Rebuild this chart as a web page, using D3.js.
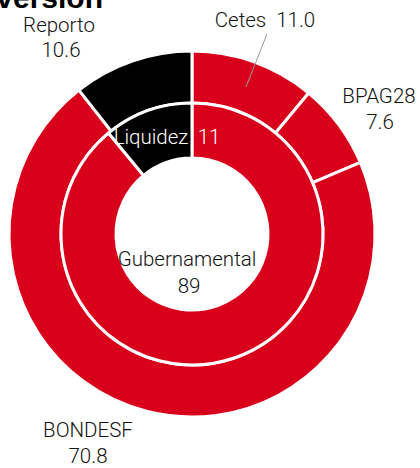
<!DOCTYPE html>
<html>
<head>
<meta charset="utf-8">
<script src="https://cdn.jsdelivr.net/npm/d3@7"></script>
<style>
  body { margin: 0; background: #fff; }
  text { font-family: Roboto, "Liberation Sans", sans-serif; font-weight: 300; }
</style>
</head>
<body>
<script>
const width = 420, height = 468;

// outer ring
const outerNames = ['Cetes', 'BPAG28', 'BONDESF', 'Reporto'];
const outerValues = [11.0, 7.6, 70.8, 10.6];
const outerColors = ['#d9001b', '#d9001b', '#d9001b', '#000000'];

// inner ring
const innerNames = ['Gubernamental', 'Liquidez'];
const innerValues = [89, 11];
const innerColors = ['#d9001b', '#000000'];

const cx = 192, cy = 234;

let svg = d3
  .select('body')
  .append('svg')
  .attr('width', width)
  .attr('height', height);

// title, cut off at the top like in the source
svg
  .append('text')
  .attr('x', 103)
  .attr('y', 8)
  .attr('text-anchor', 'end')
  .style('font', 'bold 30px "Liberation Sans", sans-serif')
  .text('Inversión');

const g = svg.append('g').attr('transform', 'translate(' + cx + ',' + cy + ')');

const pie = d3.pie().sort(null).value((d) => d);

const outerArc = d3.arc().innerRadius(131).outerRadius(183);
const innerArc = d3.arc().innerRadius(76).outerRadius(131);

g.selectAll('.outer')
  .data(pie(outerValues))
  .enter()
  .append('path')
  .attr('class', 'outer')
  .attr('d', outerArc)
  .attr('fill', (d, i) => outerColors[i])
  .attr('stroke', '#fff')
  .attr('stroke-width', 3);

g.selectAll('.inner')
  .data(pie(innerValues))
  .enter()
  .append('path')
  .attr('class', 'inner')
  .attr('d', innerArc)
  .attr('fill', (d, i) => innerColors[i])
  .attr('stroke', '#fff')
  .attr('stroke-width', 3);

// leader line for Cetes
svg
  .append('line')
  .attr('x1', 267)
  .attr('y1', 34)
  .attr('x2', 246)
  .attr('y2', 87)
  .attr('stroke', '#999')
  .attr('stroke-width', 1);

// labels: [text, x, y, color]
const labels = [
  ['Cetes  11.0', 265, 27, '#111'],
  ['BPAG28', 379, 103, '#111'],
  ['7.6', 380, 129, '#111'],
  ['Reporto', 59, 32, '#111'],
  ['10.6', 61, 57, '#111'],
  ['BONDESF', 88, 437, '#111'],
  ['70.8', 88, 463, '#111'],
  ['Gubernamental', 187, 266, '#111'],
  ['89', 189, 293, '#111']
];

svg
  .selectAll('.lbl')
  .data(labels)
  .enter()
  .append('text')
  .attr('class', 'lbl')
  .attr('x', (d) => d[1])
  .attr('y', (d) => d[2])
  .attr('text-anchor', 'middle')
  .attr('fill', (d) => d[3])
  .style('font-size', '20.5px')
  .style('white-space', 'pre')
  .text((d) => d[0]);

svg
  .append('text')
  .attr('x', 151)
  .attr('y', 144)
  .attr('text-anchor', 'middle')
  .attr('fill', '#fff')
  .style('font-size', '20.5px')
  .text('Liquidez');

svg
  .append('text')
  .attr('x', 209)
  .attr('y', 144)
  .attr('text-anchor', 'middle')
  .attr('fill', '#fff')
  .style('font-size', '20.5px')
  .text('11');
</script>
</body>
</html>
